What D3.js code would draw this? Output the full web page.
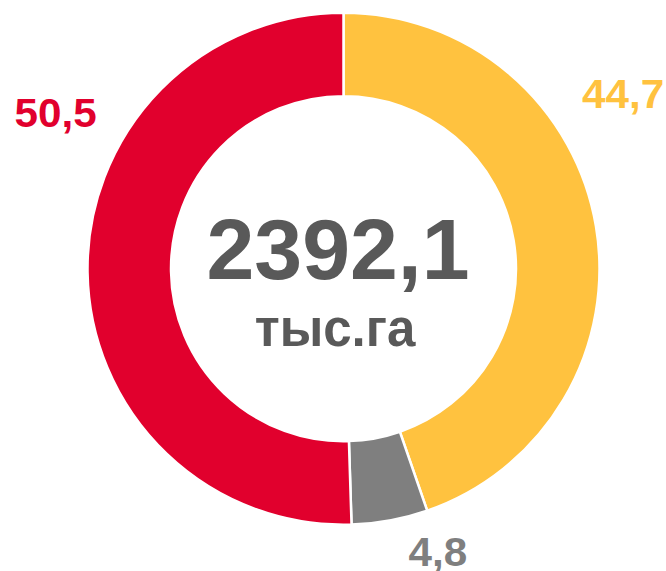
<!DOCTYPE html>
<html><head><meta charset="utf-8">
<script src="https://cdn.jsdelivr.net/npm/d3@7"></script>
<style>html,body{margin:0;padding:0;background:#fff;}svg{display:block;}</style>
</head><body>
<svg id="chart" width="666" height="571"></svg>
<script>
const categories = ["A", "B", "C"];
const values = [44.7, 4.8, 50.5];
const labels = ["44,7", "4,8", "50,5"];
const colors = ["#FFC23F", "#7F7F7F", "#E1002D"];
const totalLabel = "2392,1";
const unitLabel = "тыс.га";

const svg = d3.select("#chart");
const cx = 343.5, cy = 268.7, rOuter = 256, rInner = 172.5;
const g = svg.append("g").attr("transform", `translate(${cx},${cy})`);

const pie = d3.pie().sort(null).value(d => d.v);
const arcs = pie(values.map((v, i) => ({v, i})));
const arc = d3.arc().innerRadius(rInner).outerRadius(rOuter);

g.selectAll("path").data(arcs).join("path")
  .attr("d", arc)
  .attr("fill", d => colors[d.data.i])
  .attr("stroke", "#fff")
  .attr("stroke-width", 2.5);

const labelPos = [
  {x: 582, y: 107.5}, // 44,7
  {x: 408.5, y: 566}, // 4,8
  {x: 14.5, y: 126.5} // 50,5
];
const font = "'Liberation Sans', Arial, sans-serif";
svg.selectAll("text.lbl").data(labels).join("text")
  .attr("class", "lbl")
  .attr("transform", (d, i) => `translate(${labelPos[i].x},${labelPos[i].y}) scale(1.03,1)`)
  .attr("font-family", font)
  .attr("font-weight", "bold")
  .attr("font-size", 41)
  .attr("fill", (d, i) => colors[i])
  .text(d => d);

svg.append("text")
  .attr("x", 338).attr("y", 279)
  .attr("text-anchor", "middle")
  .attr("font-family", font).attr("font-weight", "bold")
  .attr("font-size", 86)
  .attr("fill", "#595959")
  .text(totalLabel);

svg.append("text")
  .attr("x", 335).attr("y", 346)
  .attr("text-anchor", "middle")
  .attr("font-family", font).attr("font-weight", "bold")
  .attr("font-size", 51)
  .attr("fill", "#595959")
  .text(unitLabel);
</script>
</body></html>
